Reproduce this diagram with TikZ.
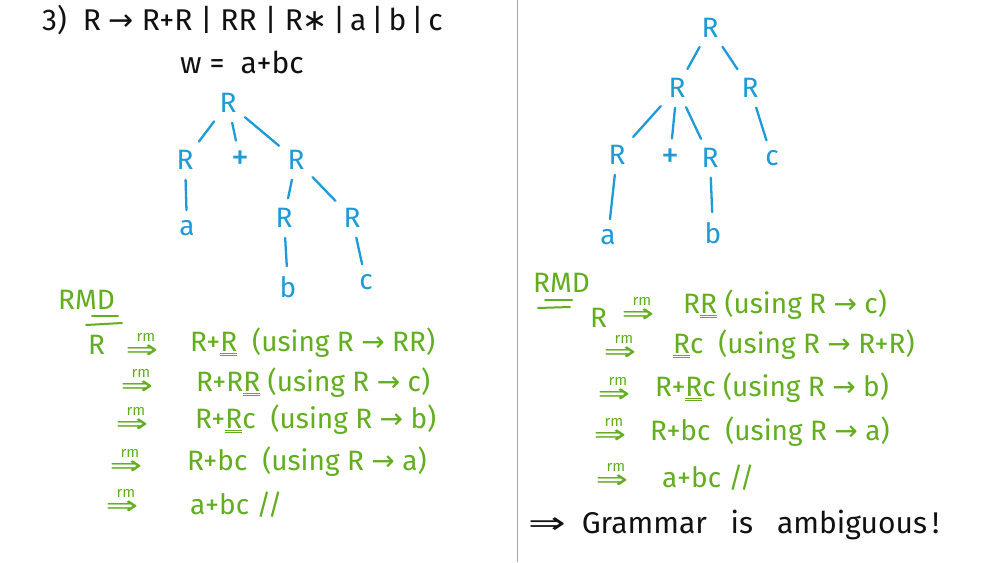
\documentclass[tikz,border=0pt]{standalone}
\usepackage{fontspec}
\usepackage{graphicx}
\setmainfont{Fira Sans}
\newfontfamily\arr{DejaVu Sans}
\definecolor{pblue}{HTML}{1E9AD6}
\definecolor{pgreen}{HTML}{62AE1E}
\definecolor{pink}{HTML}{111111}
\newcommand{\uR}{\underline{\underline{R}}}
\newcommand{\ra}{{\arr →}}
\newcommand{\Ra}{\scalebox{1.5}[1]{\arr ⇒}}
\newcommand{\bigplus}{{\fontsize{36}{36}\selectfont +}}
\begin{document}
\begin{tikzpicture}[x=1pt,y=-1pt,
  tn/.style={text=pblue, font=\fontsize{28}{30}\selectfont, inner sep=3pt},
  edge/.style={draw=pblue, line width=2.3pt, line cap=round, shorten >=7pt, shorten <=7pt},
  gt/.style={text=pgreen, font=\fontsize{28}{30}\selectfont, anchor=west, inner sep=0pt},
  arrw/.style={text=pgreen, font=\fontsize{26}{28}\selectfont, inner sep=0pt},
  rmlab/.style={text=pgreen, font=\fontsize{15}{16}\selectfont, inner sep=0pt, xshift=4pt},
  bt/.style={text=pink, font=\fontsize{30}{34}\selectfont, inner sep=0pt},
  uline/.style={draw=pgreen, line width=2pt, line cap=round}]
\fill[white] (0,0) rectangle (1000,562);
\useasboundingbox (0,0) rectangle (1000,562);
\draw[gray!70, line width=0.9pt] (517,0) -- (517,562);

% title
\node[bt, anchor=west] (title) at (42,20) {3)\ \ R \ra\ R+R\ |\ RR\ |\ R{\arr ∗}\,|\,a\,|\,b\,|\,c};
\node[bt] (w) at (242,62) {w = \ a+bc};

% left tree
\node[tn] (lR) at (228,103) {R};
\node[tn] (lR1) at (185,160) {R};
\node[tn] (lP) at (240,160) {\bigplus};
\node[tn] (lR2) at (296,160) {R};
\node[tn] (la) at (187,228) {a};
\node[tn] (lR3) at (284,218) {R};
\node[tn] (lR4) at (352,218) {R};
\node[tn] (lb) at (288,287) {b};
\node[tn] (lc) at (366,282) {c};
\draw[edge] (lR) -- (lR1);
\draw[edge] (lR) -- (lP);
\draw[edge] (lR) -- (lR2);
\draw[edge] (lR1) -- (la);
\draw[edge] (lR2) -- (lR3);
\draw[edge] (lR2) -- (lR4);
\draw[edge] (lR3) -- (lb);
\draw[edge] (lR4) -- (lc);

% right tree
\node[tn] (rR) at (710,28) {R};
\node[tn] (rR1) at (677,88) {R};
\node[tn] (rR2) at (750,88) {R};
\node[tn] (rR3) at (617,155) {R};
\node[tn] (rP) at (670,158) {\bigplus};
\node[tn] (rR4) at (710,158) {R};
\node[tn] (rc) at (772,158) {c};
\node[tn] (ra) at (608,237) {a};
\node[tn] (rb) at (713,233) {b};
\draw[edge] (rR) -- (rR1);
\draw[edge] (rR) -- (rR2);
\draw[edge] (rR1) -- (rR3);
\draw[edge] (rR1) -- (rP);
\draw[edge] (rR1) -- (rR4);
\draw[edge] (rR2) -- (rc);
\draw[edge] (rR3) -- (ra);
\draw[edge] (rR4) -- (rb);

% left RMD
\node[gt] (lrmd) at (58,300) {RMD};
\draw[uline] (92,316) -- (118,316);
\draw[uline] (86,325) -- (122,323);
\node[gt] (lS) at (88,345) {R};
\node[arrw, label={[rmlab, label distance=3pt]above:rm}] (la1) at (142,352) {\Ra};
\node[arrw, label={[rmlab, label distance=3pt]above:rm}] (la2) at (137,388) {\Ra};
\node[arrw, label={[rmlab, label distance=3pt]above:rm}] (la3) at (132,426) {\Ra};
\node[arrw, label={[rmlab, label distance=3pt]above:rm}] (la4) at (126,468) {\Ra};
\node[arrw, label={[rmlab, label distance=3pt]above:rm}] (la5) at (122,508) {\Ra};
\node[gt] (ld1) at (190,343) {R+\uR\ \ (using R \ra\ RR)};
\node[gt] (ld2) at (196,383) {R+R\uR\ (using R \ra\ c)};
\node[gt] (ld3) at (195,420) {R+\uR c\ \ (using R \ra\ b)};
\node[gt] (ld4) at (187,462) {R+bc\ \ (using R \ra\ a)};
\node[gt] (ld5) at (190,505) {a+bc //};

% right RMD
\node[gt] (rrmd) at (533,283) {RMD};
\draw[uline] (545,300) -- (572,300);
\draw[uline] (538,308) -- (570,307);
\node[gt] (rS) at (590,318) {R};
\node[arrw, label={[rmlab, label distance=3pt]above:rm}] (ra1) at (638,316) {\Ra};
\node[arrw, label={[rmlab, label distance=3pt]above:rm}] (ra2) at (620,354) {\Ra};
\node[arrw, label={[rmlab, label distance=3pt]above:rm}] (ra3) at (614,396) {\Ra};
\node[arrw, label={[rmlab, label distance=3pt]above:rm}] (ra4) at (610,437) {\Ra};
\node[arrw, label={[rmlab, label distance=3pt]above:rm}] (ra5) at (612,482) {\Ra};
\node[gt] (rd1) at (683,305) {R\uR\ (using R \ra\ c)};
\node[gt] (rd2) at (673,345) {\uR c\ \ (using\ R \ra\ R+R)};
\node[gt] (rd3) at (655,388) {R+\uR c (using R \ra\ b)};
\node[gt] (rd4) at (650,432) {R+bc\ \ (using R \ra\ a)};
\node[gt] (rd5) at (662,478) {a+bc //};

\node[bt, anchor=west] (concl) at (528,525) {\Ra\ \ Grammar\ \ \ is\ \ \ ambiguous\,!};
\end{tikzpicture}
\end{document}
